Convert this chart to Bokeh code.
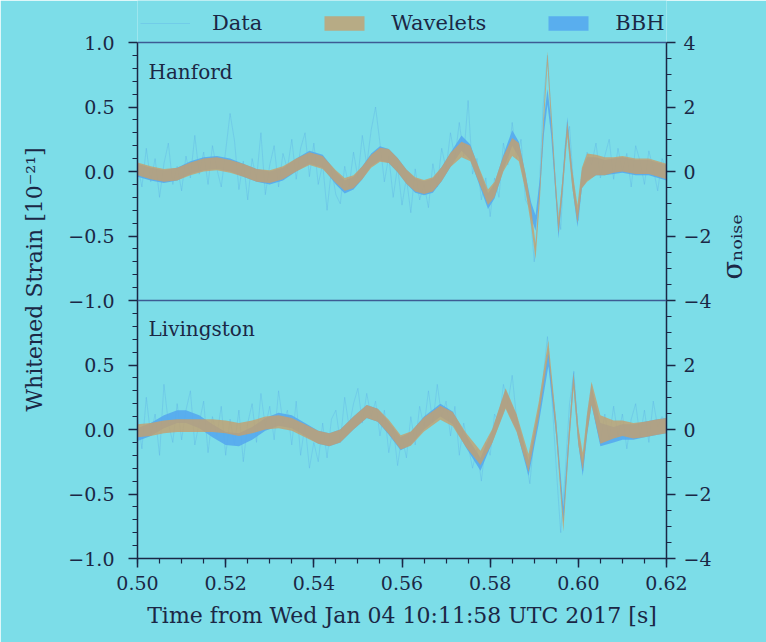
import numpy as np
from bokeh.plotting import figure
from bokeh.models import (Range1d, LinearAxis, FixedTicker, CustomJSTickFormatter,
                          PrintfTickFormatter, Legend, LegendItem, Label, Span)
from bokeh.embed import file_html
from bokeh.resources import INLINE

# ---------------------------------------------------------------- data
# Hanford reconstructions: time [s], centre and half-width of the 90% bands
t_h = [0.500, 0.503, 0.506, 0.509, 0.512, 0.515, 0.518, 0.521, 0.524, 0.527,
       0.530, 0.533, 0.536, 0.539, 0.542, 0.545, 0.547, 0.549, 0.551, 0.553,
       0.555, 0.557, 0.559, 0.561, 0.563, 0.565, 0.567, 0.569, 0.571, 0.5735,
       0.5755, 0.5775, 0.5795, 0.581, 0.583, 0.585, 0.5865, 0.588, 0.5893, 0.5903,
       0.5913, 0.5922, 0.5930, 0.5938, 0.5947, 0.5955, 0.5963, 0.5975, 0.5986, 0.5998,
       0.6008, 0.6020, 0.6040, 0.6060, 0.6080, 0.6100, 0.6130, 0.6160, 0.6200]
wav_h = [0.02, -0.01, -0.03, -0.02, 0.02, 0.05, 0.06, 0.04, 0.01, -0.03,
         -0.04, -0.01, 0.05, 0.10, 0.07, -0.04, -0.10, -0.08, -0.01, 0.08,
         0.13, 0.12, 0.05, -0.04, -0.10, -0.12, -0.10, -0.02, 0.09, 0.17,
         0.14, -0.03, -0.20, -0.14, 0.06, 0.19, 0.15, -0.08, -0.35, -0.62,
         -0.15, 0.45, 0.88, 0.45, -0.05, -0.42, -0.15, 0.33, -0.05, -0.33,
         -0.05, 0.03, 0.05, 0.04, 0.05, 0.06, 0.04, 0.04, 0.00]
wav_hw_h = [0.05, 0.05, 0.05, 0.05, 0.05, 0.05, 0.05, 0.05, 0.05, 0.05,
            0.05, 0.05, 0.05, 0.05, 0.05, 0.05, 0.05, 0.05, 0.05, 0.05,
            0.055, 0.055, 0.055, 0.055, 0.055, 0.055, 0.055, 0.055, 0.055, 0.06,
            0.06, 0.06, 0.06, 0.06, 0.06, 0.07, 0.07, 0.07, 0.07, 0.06,
            0.06, 0.06, 0.05, 0.06, 0.06, 0.06, 0.06, 0.06, 0.07, 0.07,
            0.08, 0.11, 0.08, 0.07, 0.06, 0.06, 0.06, 0.06, 0.06]
bbh_h = [0.01, -0.02, -0.04, -0.02, 0.03, 0.06, 0.07, 0.05, 0.01, -0.03,
         -0.05, -0.02, 0.05, 0.11, 0.08, -0.05, -0.12, -0.09, -0.01, 0.09,
         0.14, 0.12, 0.05, -0.04, -0.11, -0.13, -0.11, -0.02, 0.09, 0.22,
         0.15, -0.04, -0.23, -0.15, 0.07, 0.26, 0.17, -0.08, -0.30, -0.40,
         -0.10, 0.35, 0.58, 0.35, -0.06, -0.46, -0.15, 0.36, -0.05, -0.37,
         -0.06, 0.02, 0.04, 0.03, 0.04, 0.05, 0.03, 0.03, -0.01]
bbh_hw_h = ([0.05] * 20 + [0.055] * 9 + [0.06] * 21
            + [0.07, 0.09, 0.07, 0.06, 0.06, 0.06, 0.06, 0.06, 0.06])

# Livingston reconstructions
t_l = [0.5000, 0.5030, 0.5060, 0.5090, 0.5110, 0.5140, 0.5170, 0.5200, 0.5230, 0.5260,
       0.5290, 0.5320, 0.5350, 0.5380, 0.5410, 0.5435, 0.5460, 0.5490, 0.5520, 0.5545,
       0.5570, 0.5597, 0.5620, 0.5650, 0.5687, 0.5715, 0.5745, 0.5778, 0.5805, 0.5835,
       0.5860, 0.5887, 0.5910, 0.5932, 0.5950, 0.5966, 0.5978, 0.5989, 0.6000, 0.6010,
       0.6020, 0.6030, 0.6050, 0.6080, 0.6100, 0.6125, 0.6150, 0.6180, 0.6200]
wav_l = [-0.01, 0.00, 0.02, 0.03, 0.03, 0.03, 0.03, 0.02, 0.00, 0.02,
         0.05, 0.06, 0.04, -0.01, -0.06, -0.08, -0.05, 0.05, 0.14, 0.11,
         0.02, -0.10, -0.07, 0.04, 0.13, 0.08, -0.08, -0.22, -0.05, 0.24,
         0.05, -0.26, 0.15, 0.64, 0.00, -0.74, -0.10, 0.38, -0.05, -0.25,
         0.05, 0.28, 0.00, 0.00, 0.01, -0.01, 0.00, 0.02, 0.03]
wav_hw_l = ([0.05] * 20 + [0.055] * 9 + [0.08]
            + [0.07, 0.07, 0.06, 0.05, 0.06, 0.05, 0.07, 0.06, 0.07, 0.07,
               0.08, 0.09, 0.11, 0.07, 0.06, 0.06, 0.06, 0.06, 0.06])
bbh_l = [-0.04, 0.00, 0.06, 0.10, 0.10, 0.06, -0.01, -0.07, -0.08, -0.03,
         0.04, 0.08, 0.06, 0.00, -0.06, -0.08, -0.05, 0.05, 0.14, 0.11,
         0.01, -0.11, -0.07, 0.05, 0.15, 0.09, -0.09, -0.27, -0.05, 0.24,
         0.05, -0.30, 0.10, 0.55, 0.00, -0.66, -0.10, 0.40, -0.05, -0.30,
         0.03, 0.26, -0.04, -0.04, -0.02, -0.02, 0.00, 0.02, 0.03]
bbh_hw_l = ([0.05] * 29 + [0.07] + [0.06] * 10
            + [0.07, 0.07, 0.09, 0.06, 0.06, 0.06, 0.06, 0.06, 0.06])

# whitened data, one sample per millisecond from 0.500 s
data_h = [0.05, -0.12, 0.18, -0.08, 0.10, -0.20, 0.06, 0.22, -0.10, 0.04,
          -0.15, 0.12, -0.05, 0.28, -0.02, 0.15, -0.10, 0.20, 0.02, -0.12,
          0.16, 0.45, 0.24, -0.14, 0.08, -0.22, 0.10, -0.06, 0.30, -0.18,
          0.05, 0.20, -0.12, 0.14, 0.02, 0.25, -0.06, 0.18, 0.30, -0.04,
          0.22, -0.10, 0.06, -0.30, 0.02, -0.18, -0.25, 0.04, -0.12, 0.15,
          -0.05, 0.28, 0.05, 0.32, 0.50, 0.22, -0.08, 0.12, -0.20, 0.04,
          -0.26, -0.05, -0.32, 0.02, -0.22, -0.10, -0.28, 0.06, -0.12, 0.18,
          0.02, 0.30, 0.10, 0.38, 0.12, 0.55, -0.02, 0.10, -0.22, -0.05,
          -0.35, -0.05, -0.20, 0.22, 0.05, 0.38, 0.10, 0.25, -0.22, -0.28,
          -0.70, -0.25, 0.50, 0.90, 0.35, -0.20, -0.45, 0.20, 0.35, -0.15,
          -0.38, 0.02, 0.15, 0.05, 0.22, -0.05, 0.12, 0.25, -0.06, 0.18,
          0.00, 0.14, -0.12, 0.20, 0.08, -0.10, 0.16, 0.02, -0.15, 0.10,
          0.02]
data_l = [0.10, -0.15, 0.25, -0.05, 0.12, -0.20, 0.35, 0.05, -0.10, 0.20,
          -0.08, 0.15, 0.30, -0.12, 0.05, 0.22, -0.18, 0.10, -0.05, 0.18,
          -0.20, 0.08, -0.12, 0.15, -0.25, 0.05, 0.20, -0.10, 0.28, 0.02,
          0.18, -0.08, 0.30, 0.05, 0.15, -0.12, 0.22, -0.20, 0.04, -0.30,
          -0.10, -0.25, 0.05, -0.22, 0.08, 0.15, -0.10, 0.25, 0.02, 0.20,
          0.32, 0.05, 0.28, 0.10, 0.22, -0.05, 0.15, -0.18, 0.02, -0.28,
          -0.05, -0.22, 0.10, -0.12, 0.18, 0.02, 0.30, 0.05, 0.35, 0.10,
          0.22, -0.05, 0.18, -0.20, 0.05, -0.12, -0.30, -0.15, -0.40, -0.10,
          -0.20, 0.12, 0.05, 0.35, 0.20, 0.42, 0.08, -0.12, -0.22, -0.42,
          -0.05, 0.15, 0.40, 0.72, 0.25, -0.30, -0.80, -0.35, 0.20, 0.45,
          -0.08, -0.32, 0.10, 0.35, 0.05, -0.10, 0.12, -0.08, 0.18, -0.05,
          0.12, -0.15, 0.08, 0.20, -0.06, 0.15, -0.10, 0.22, 0.02, 0.10,
          0.05]
data_t = [round(0.500 + 0.001 * i, 3) for i in range(len(data_h))]

# axis ticks and their labels (Hanford panel stacked above Livingston)
x_ticks = [0.50, 0.52, 0.54, 0.56, 0.58, 0.60, 0.62]
strain_ticks = [-1.0, -0.5, 0.0, 0.5, 1.0, 1.5, 2.0, 2.5, 3.0]
strain_labels = ["\u22121.0", "\u22120.5", "0.0", "0.5", "\u22121.0", "\u22120.5", "0.0", "0.5", "1.0"]
sigma_ticks = [-4, -2, 0, 2, 4, 6, 8, 10, 12]
sigma_labels = ["\u22124", "\u22122", "0", "2", "\u22124", "\u22122", "0", "2", "4"]

# ---------------------------------------------------------------- style
BG = "#7cdde8"
INK = "#1b2745"
FRAME = "#3d5b93"
WAVE = "#c69f6c"
BBH = "#55a9ee"
DATA = "#4f9be6"
FONT = "DejaVu Serif"
STRAIN_SHIFT = 2.0   # Hanford drawn two strain units above Livingston

# the frame reaches to the top of the canvas; the strip above the Hanford
# panel (42 px) holds the legend
H, BOTTOM, STRIP = 642, 84, 42
panel_px = H - BOTTOM - STRIP
y_top = 3.0 + STRIP * 4.0 / panel_px
s_top = 12.0 + STRIP * 16.0 / panel_px

p = figure(width=766, height=H, x_range=Range1d(0.5, 0.62), y_range=Range1d(-1, y_top),
           output_backend="svg", toolbar_location=None,
           min_border_left=137, min_border_right=99, min_border_top=0, min_border_bottom=BOTTOM)
p.extra_y_ranges = {"sigma": Range1d(-4, s_top)}
p.background_fill_color = BG
p.border_fill_color = BG
p.grid.visible = False
p.outline_line_color = None


def draw_panel(t, wc, whw, bc, bhw, data, shift):
    t = np.asarray(t)
    wc, whw = np.asarray(wc), np.asarray(whw)
    bc, bhw = np.asarray(bc), np.asarray(bhw)
    d = p.line(data_t, np.asarray(data) + shift, line_color=DATA, line_alpha=0.25, line_width=1)
    b = p.varea(x=t, y1=bc - bhw + shift, y2=bc + bhw + shift, fill_color=BBH, fill_alpha=0.9)
    w = p.varea(x=t, y1=wc - whw + shift, y2=wc + whw + shift, fill_color=WAVE, fill_alpha=0.8)
    return d, b, w


d_h, b_h, w_h = draw_panel(t_h, wav_h, wav_hw_h, bbh_h, bbh_hw_h, data_h, STRAIN_SHIFT)
draw_panel(t_l, wav_l, wav_hw_l, bbh_l, bbh_hw_l, data_l, 0.0)

# top edge of the Hanford panel and the divider between the panels
p.add_layout(Span(location=3.0, dimension="width", line_color=FRAME, line_width=1.5))
p.add_layout(Span(location=1.0, dimension="width", line_color=FRAME, line_width=1.5))

# axes
tick_fmt_code = """
const i = tv.findIndex(v => Math.abs(v - tick) < 1e-6);
return i >= 0 ? tl[i] : "";
"""


def style_axis(ax, standoff):
    ax.axis_line_color = INK
    ax.axis_line_width = 1.5
    ax.major_tick_line_color = INK
    ax.major_tick_line_width = 1.5
    ax.minor_tick_line_color = INK
    ax.minor_tick_line_width = 1.2
    ax.major_tick_out = 9
    ax.major_tick_in = 0
    ax.minor_tick_out = 5
    ax.minor_tick_in = 0
    ax.major_label_text_font = FONT
    ax.major_label_text_font_size = "19px"
    ax.major_label_text_color = INK
    ax.major_label_standoff = standoff
    ax.axis_label_text_font = FONT
    ax.axis_label_text_font_size = "22px"
    ax.axis_label_text_font_style = "normal"
    ax.axis_label_text_color = INK


xa = p.xaxis[0]
xa.ticker = FixedTicker(ticks=x_ticks, minor_ticks=[round(0.5 + 0.005 * i, 3) for i in range(25)])
xa.formatter = PrintfTickFormatter(format="%.2f")
style_axis(xa, 8)
xa.axis_label = "Time from Wed Jan 04 10:11:58 UTC 2017 [s]"
xa.axis_label_standoff = 10

ya = p.yaxis[0]
ya.ticker = FixedTicker(ticks=strain_ticks, minor_ticks=[round(-1 + 0.1 * i, 2) for i in range(41)])
ya.formatter = CustomJSTickFormatter(args=dict(tv=strain_ticks, tl=strain_labels), code=tick_fmt_code)
ya.bounds = (-1.0, 3.0)
style_axis(ya, 14)
ya.axis_label = "Whitened Strain [10\u207b\u00b2\u00b9]"
ya.axis_label_standoff = 18

ra = LinearAxis(y_range_name="sigma")
ra.ticker = FixedTicker(ticks=sigma_ticks, minor_ticks=[-4 + 0.5 * i for i in range(33)])
ra.formatter = CustomJSTickFormatter(args=dict(tv=sigma_ticks, tl=sigma_labels), code=tick_fmt_code)
ra.bounds = (-4.0, 12.0)
style_axis(ra, 8)
ra.axis_label = "\u03c3\u2099\u2092\u1d62\u209b\u2091"
ra.axis_label_orientation = np.pi / 2
ra.axis_label_standoff = 18
ra.axis_label_text_font_size = "27px"
p.add_layout(ra, "right")

# panel names
for name, yv in (("Hanford", 2.77), ("Livingston", 0.78)):
    p.add_layout(Label(x=0.5, y=yv, x_offset=11, text=name, text_baseline="middle",
                       text_font=FONT, text_font_size="20px", text_color=INK))

# legend in the strip above the panels
legend = Legend(items=[LegendItem(label="Data", renderers=[d_h]),
                       LegendItem(label="Wavelets", renderers=[w_h]),
                       LegendItem(label="BBH", renderers=[b_h])],
                orientation="horizontal", location=(3, panel_px + STRIP - 35),
                glyph_width=50, glyph_height=18, label_standoff=22, spacing=57,
                padding=0, margin=0, border_line_alpha=0, background_fill_alpha=0,
                label_text_font=FONT, label_text_font_size="21px", label_text_color=INK)
p.add_layout(legend, "center")

open("out.html", "w").write(file_html(p, INLINE))
